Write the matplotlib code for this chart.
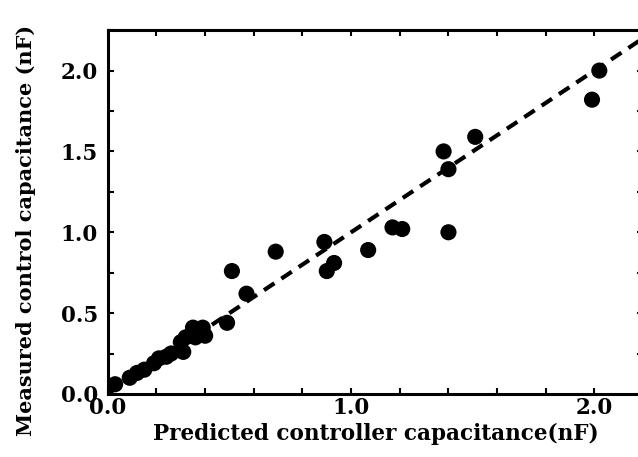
import matplotlib
matplotlib.use("Agg")
import matplotlib.pyplot as plt
from matplotlib.ticker import MultipleLocator, FormatStrFormatter

# predicted vs measured capacitance, nF
predicted = [0.03, 0.09, 0.12, 0.15, 0.19, 0.21, 0.24, 0.26, 0.31, 0.30, 0.32,
             0.35, 0.36, 0.40, 0.39, 0.49, 0.51, 0.57, 0.69, 0.89, 0.90, 0.93,
             1.07, 1.17, 1.21, 1.38, 1.40, 1.40, 1.51, 1.99, 2.02]
measured = [0.06, 0.10, 0.13, 0.15, 0.19, 0.22, 0.23, 0.25, 0.26, 0.32, 0.35,
            0.41, 0.35, 0.36, 0.41, 0.44, 0.76, 0.62, 0.88, 0.94, 0.76, 0.81,
            0.89, 1.03, 1.02, 1.50, 1.39, 1.00, 1.59, 1.82, 2.00]
fit_x = [0.0, 2.2]
fit_y = [0.0, 2.2]

plt.rcParams["font.family"] = "DejaVu Serif"
plt.rcParams["font.weight"] = "bold"

fig = plt.figure(figsize=(6.38, 4.57), dpi=100)
ax = fig.add_axes([0.169, 0.138, 0.839, 0.796])

ax.plot(fit_x, fit_y, color="black", lw=3, dashes=(3, 2), zorder=2)
ax.scatter(predicted, measured, s=135, color="black", edgecolors="none", zorder=3)

ax.set_xlim(0, 2.2)
ax.set_ylim(0, 2.25)
ax.xaxis.set_major_locator(MultipleLocator(1.0))
ax.xaxis.set_minor_locator(MultipleLocator(0.2))
ax.yaxis.set_major_locator(MultipleLocator(0.5))
ax.yaxis.set_minor_locator(MultipleLocator(0.25))
ax.xaxis.set_major_formatter(FormatStrFormatter("%.1f"))
ax.yaxis.set_major_formatter(FormatStrFormatter("%.1f"))
ax.tick_params(which="both", direction="in", top=True, right=True,
               width=1.5, length=4, labelsize=15.5)
ax.tick_params(axis="x", which="major", pad=2)
ax.tick_params(axis="y", which="major", pad=7)

for spine in ax.spines.values():
    spine.set_linewidth(2.2)

ax.set_xlabel("Predicted controller capacitance(nF)", fontsize=15.5,
              fontweight="bold", labelpad=3)
ax.set_ylabel("Measured control capacitance (nF)", fontsize=15,
              fontweight="bold")
ax.yaxis.set_label_coords(-0.135, 0.45)

fig.savefig("out.png", dpi=100)
